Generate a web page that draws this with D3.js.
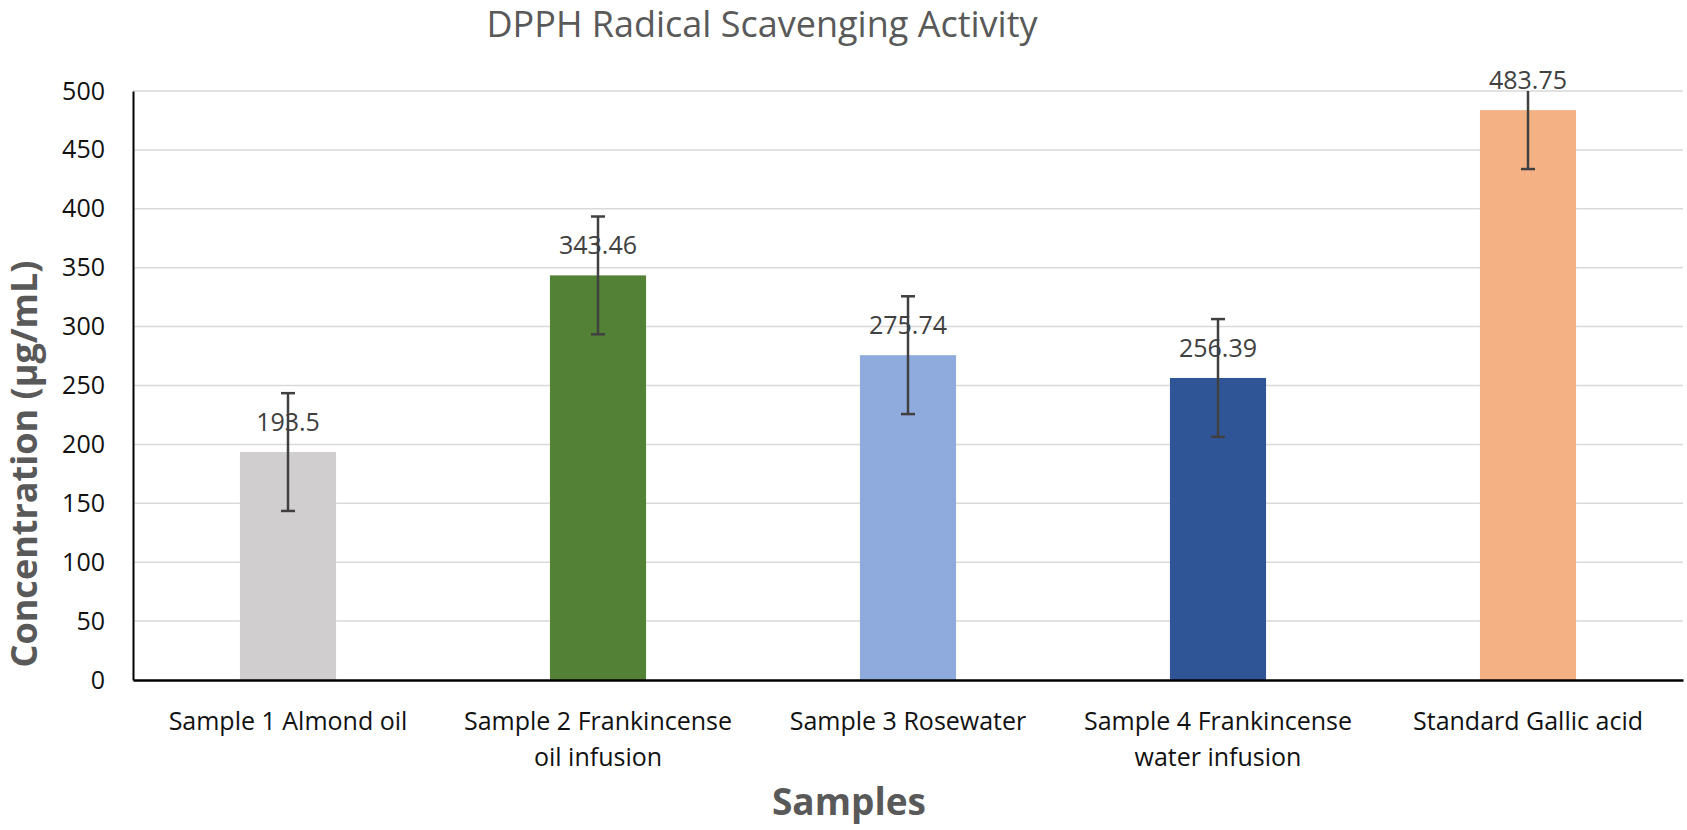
<!DOCTYPE html>
<html lang="en">
<head>
    <meta charset="UTF-8">
    <title>DPPH Radical Scavenging Activity</title>
    <script src="https://d3js.org/d3.v7.min.js"></script>
    <style>
        body { margin: 0; background: #fff; font-family: "Open Sans", sans-serif; }
    </style>
</head>
<body>
    <div id="chart"></div>
    <script>
        const samples = ["Sample 1 Almond oil", "Sample 2 Frankincense oil infusion", "Sample 3 Rosewater",
                         "Sample 4 Frankincense water infusion", "Standard Gallic acid"];
        const tickLines = [["Sample 1 Almond oil"], ["Sample 2 Frankincense", "oil infusion"], ["Sample 3 Rosewater"],
                           ["Sample 4 Frankincense", "water infusion"], ["Standard Gallic acid"]];
        const values = [193.5, 343.46, 275.74, 256.39, 483.75];
        const errors = [50, 50, 50, 50, 50];
        const colors = ["#d0cece", "#538135", "#8faadc", "#2f5597", "#f4b183"];
        const yTicks = [0, 50, 100, 150, 200, 250, 300, 350, 400, 450, 500];

        const width = 1687, height = 830;
        const plot = { left: 133, right: 1683, top: 91, bottom: 680 };

        const svg = d3.select('#chart').append('svg')
            .attr('width', width)
            .attr('height', height);

        const x = d3.scaleBand()
            .domain(samples)
            .range([plot.left, plot.right])
            .paddingInner(0.69)
            .paddingOuter(0.345);

        const y = d3.scaleLinear()
            .domain([0, 500])
            .range([plot.bottom, plot.top]);

        // gridlines
        svg.append('g')
            .selectAll('line')
            .data(yTicks.filter(d => d > 0))
            .join('line')
            .attr('x1', plot.left)
            .attr('x2', plot.right)
            .attr('y1', d => y(d))
            .attr('y2', d => y(d))
            .attr('stroke', '#d9d9d9')
            .attr('stroke-width', 1.5);

        svg.append('defs').append('clipPath')
            .attr('id', 'plot-clip')
            .append('rect')
            .attr('x', plot.left)
            .attr('y', plot.top)
            .attr('width', plot.right - plot.left)
            .attr('height', plot.bottom - plot.top);

        // bars
        svg.append('g')
            .selectAll('rect')
            .data(samples)
            .join('rect')
            .attr('x', d => x(d))
            .attr('y', (d, i) => y(values[i]))
            .attr('width', x.bandwidth())
            .attr('height', (d, i) => y(0) - y(values[i]))
            .attr('fill', (d, i) => colors[i]);

        // data labels
        svg.append('g')
            .selectAll('text')
            .data(samples)
            .join('text')
            .attr('x', d => x(d) + x.bandwidth() / 2)
            .attr('y', (d, i) => y(values[i]) - 21)
            .attr('text-anchor', 'middle')
            .attr('font-size', 25)
            .attr('fill', '#404040')
            .text((d, i) => values[i]);

        // error bars (clipped to the plot like the original)
        const eb = svg.append('g')
            .attr('clip-path', 'url(#plot-clip)')
            .attr('stroke', '#404040')
            .attr('stroke-width', 2.5);
        samples.forEach((s, i) => {
            const cx = x(s) + x.bandwidth() / 2;
            const lo = y(values[i] - errors[i]);
            const hi = y(values[i] + errors[i]);
            eb.append('line').attr('x1', cx).attr('x2', cx).attr('y1', lo).attr('y2', hi);
            eb.append('line').attr('x1', cx - 7).attr('x2', cx + 7).attr('y1', lo).attr('y2', lo);
            eb.append('line').attr('x1', cx - 7).attr('x2', cx + 7).attr('y1', hi).attr('y2', hi);
        });

        // y axis
        const yAxis = svg.append('g')
            .attr('transform', `translate(${plot.left},0)`)
            .call(d3.axisLeft(y).tickValues(yTicks).tickSize(0).tickPadding(28));
        yAxis.select('.domain').attr('stroke', '#000').attr('stroke-width', 2);
        yAxis.selectAll('text')
            .attr('font-family', '"Open Sans", sans-serif')
            .attr('font-size', 25)
            .attr('fill', '#111');

        // x axis
        const xAxis = svg.append('g')
            .attr('transform', `translate(0,${plot.bottom})`)
            .call(d3.axisBottom(x).tickSize(0).tickFormat(''));
        xAxis.select('.domain').attr('stroke', '#000').attr('stroke-width', 2.5);
        xAxis.selectAll('.tick').each(function(d, i) {
            const t = d3.select(this).append('text')
                .attr('text-anchor', 'middle')
                .attr('font-family', '"Open Sans", sans-serif')
                .attr('font-size', 25)
                .attr('fill', '#111');
            tickLines[i].forEach((line, k) => {
                t.append('tspan').attr('x', 0).attr('y', 50 + k * 36).text(line);
            });
        });

        // titles
        svg.append('text')
            .attr('x', 762)
            .attr('y', 37)
            .attr('text-anchor', 'middle')
            .attr('font-size', 36)
            .attr('fill', '#595959')
            .text('DPPH Radical Scavenging Activity');

        svg.append('text')
            .attr('x', 849)
            .attr('y', 815)
            .attr('text-anchor', 'middle')
            .attr('font-size', 37)
            .attr('font-weight', 'bold')
            .attr('fill', '#595959')
            .text('Samples');

        svg.append('text')
            .attr('transform', `translate(37,464) rotate(-90)`)
            .attr('text-anchor', 'middle')
            .attr('font-size', 36)
            .attr('font-weight', 'bold')
            .attr('fill', '#595959')
            .text('Concentration (μg/mL)');
    </script>
</body>
</html>
